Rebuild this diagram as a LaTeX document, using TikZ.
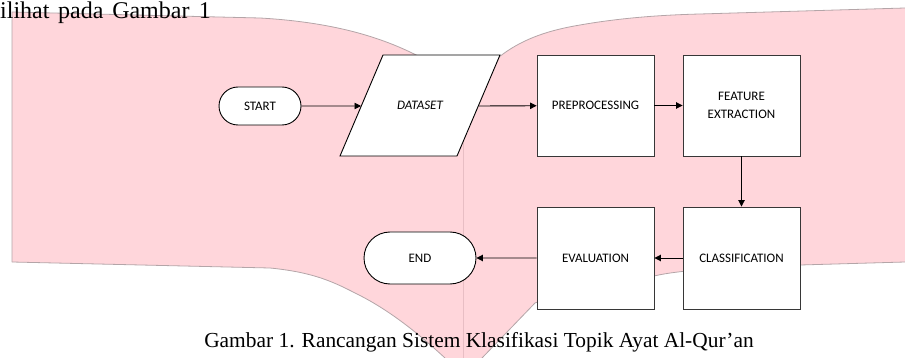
\documentclass[tikz,border=0pt]{standalone}
\usepackage{fontspec}
\setmainfont{Liberation Serif}
\newfontfamily\flowfont{Carlito}
\usetikzlibrary{shapes.misc,arrows.meta}
\definecolor{pagepink}{RGB}{255,214,219}
\definecolor{pageedge}{RGB}{180,165,168}
\definecolor{spine}{RGB}{232,190,196}
\definecolor{boxline}{RGB}{55,55,55}
\tikzset{
  flowbox/.style={draw=boxline, line width=0.9pt, fill=white, minimum width=117pt, minimum height=101pt, inner sep=2pt, align=center, font=\flowfont\fontsize{13}{18}\selectfont},
  stadium/.style={draw=black, line width=0.9pt, fill=white, rounded rectangle, inner sep=2pt, font=\flowfont\fontsize{13}{18}\selectfont},
  arr/.style={draw=black, line width=0.9pt, -{Triangle[length=6.5pt,width=6.5pt]}},
}
\begin{document}
\begin{tikzpicture}[x=1pt,y=-1pt]
\useasboundingbox (0,0) rectangle (905,358);
% background pages
\fill[pagepink] (12,12) -- (260,18) .. controls (330,22) and (380,36) .. (420,57)
  .. controls (440,67) and (455,76) .. (463,80)
  .. controls (475,72) and (490,64) .. (503,54)
  .. controls (525,38) and (550,30) .. (580,25)
  .. controls (620,18) and (660,15) .. (700,14) -- (905,8) -- (905,262) -- (800,265)
  .. controls (720,268) and (680,270) .. (654,276)
  .. controls (600,288) and (555,295) .. (535,303) -- (482,358) -- (445,358)
  .. controls (420,335) and (390,310) .. (355,293)
  .. controls (330,280) and (310,272) .. (270,268) -- (12,262) -- cycle;
\draw[pageedge, line width=0.8pt] (12,262) -- (12,12) -- (260,18) .. controls (330,22) and (380,36) .. (420,57)
  .. controls (440,67) and (455,76) .. (463,80)
  .. controls (475,72) and (490,64) .. (503,54)
  .. controls (525,38) and (550,30) .. (580,25)
  .. controls (620,18) and (660,15) .. (700,14) -- (905,8);
\draw[pageedge, line width=0.8pt] (905,262) -- (800,265)
  .. controls (720,268) and (680,270) .. (654,276)
  .. controls (600,288) and (555,295) .. (535,303) -- (482,358);
\draw[pageedge, line width=0.8pt] (445,358)
  .. controls (420,335) and (390,310) .. (355,293)
  .. controls (330,280) and (310,272) .. (270,268) -- (12,262);
\draw[spine, line width=0.8pt] (463,80) -- (463,358);
% texts
\node[anchor=base west, inner sep=0pt, font=\fontsize{24}{28}\selectfont] (top) at (0,18.5) {ilihat\hskip8.7pt pada\hskip8.7pt Gambar\hskip9.2pt 1};
\node[anchor=base, inner sep=0pt, font=\fontsize{21.4}{24}\selectfont] (cap) at (479,347) {Gambar 1. Rancangan Sistem Klasifikasi Topik Ayat Al-Qur’an};
% flowchart
\node[stadium, minimum width=86pt, minimum height=38pt] (start) at (260,106) {START};
\node[inner sep=0pt] (ds) at (420,105.5) {};
\draw[draw=black, line width=0.9pt, fill=white] (ds.center) ++(-80,50.5) -- ++(43,-101) -- ++(117,0) -- ++(-43,101) -- cycle;
\node[inner sep=0pt, font=\flowfont\itshape\fontsize{13}{18}\selectfont] (dstext) at (420,105.5) {DATASET};
\coordinate (dsL) at (361,106);
\coordinate (dsR) at (479,106);
\node[flowbox] (pre) at (595.5,105.5) {PREPROCESSING};
\node[flowbox] (fe) at (741.5,105.5) {FEATURE\\EXTRACTION};
\node[flowbox, minimum height=102pt] (cls) at (741.5,258) {CLASSIFICATION};
\node[flowbox, minimum height=102pt] (eval) at (595.5,258) {EVALUATION};
\node[stadium, minimum width=116pt, minimum height=52pt] (end) at (420,258) {END};
% connectors
\draw[arr] (start) -- (dsL);
\draw[arr] (dsR) -- (pre);
\draw[arr] (pre) -- (fe);
\draw[arr] (fe) -- (cls);
\draw[arr] (cls) -- (eval);
\draw[arr] (eval) -- (end);
\end{tikzpicture}
\end{document}
